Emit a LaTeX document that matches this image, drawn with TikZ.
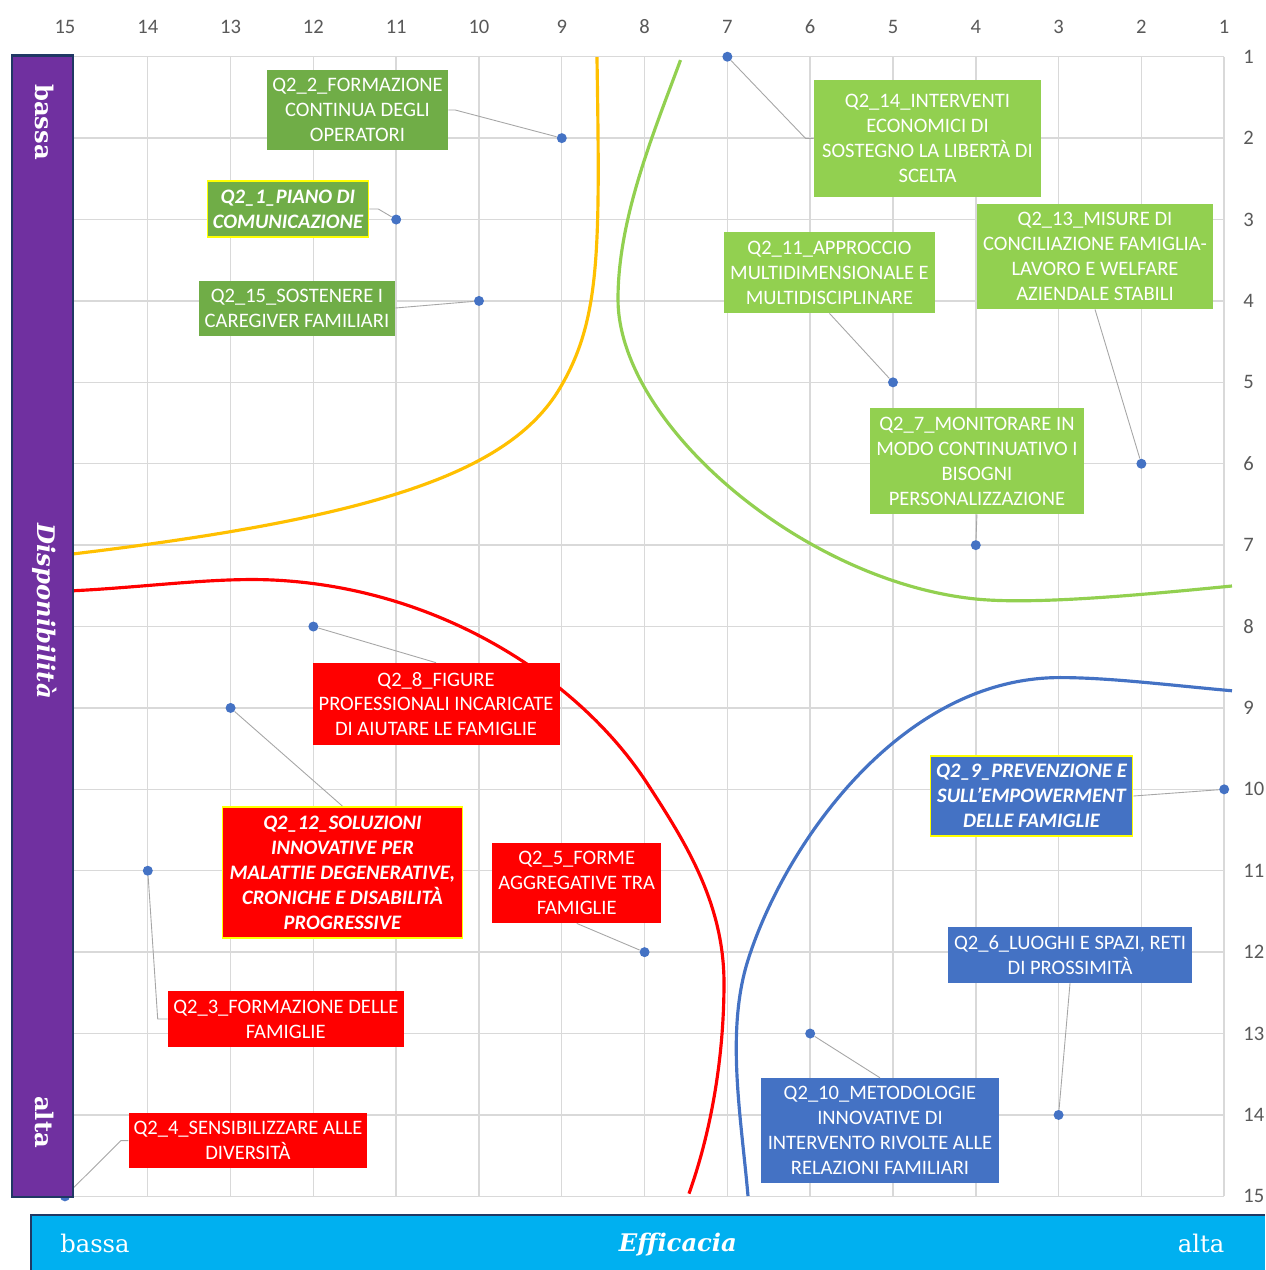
\documentclass[tikz,border=0pt]{standalone}
\usepackage{fontspec}
\usepackage{tikz}
\newfontfamily\tagfont{Carlito}
\newfontfamily\barfont{DejaVu Serif}
\definecolor{gridgray}{HTML}{D9D9D9}
\definecolor{tickgray}{HTML}{595959}
\definecolor{leadgray}{HTML}{A6A6A6}
\definecolor{dotblue}{HTML}{4472C4}
\definecolor{darkgreen}{HTML}{70AD47}
\definecolor{lightgreen}{HTML}{92D050}
\definecolor{tagred}{HTML}{FF0000}
\definecolor{tagblue}{HTML}{4472C4}
\definecolor{tagyellow}{HTML}{FFFF00}
\definecolor{barpurple}{HTML}{7030A0}
\definecolor{barnavy}{HTML}{203864}
\definecolor{barcyan}{HTML}{00B0F0}
\definecolor{curveorange}{HTML}{FFC000}
\pgfdeclarelayer{background}
\pgfdeclarelayer{foreground}
\pgfsetlayers{background,main,foreground}
\tikzset{
    gridline/.style={draw=gridgray, line width=0.8pt},
    tick/.style={text=tickgray, inner sep=0pt, font=\tagfont\fontsize{11.7}{14}\selectfont},
    dot/.style={circle, fill=dotblue, inner sep=0pt, minimum size=0.2cm},
    tag/.style={text=white, align=center, inner sep=0pt, font=\tagfont\fontsize{11.7}{14.2}\selectfont},
    tagem/.style={tag, draw=tagyellow, line width=1pt, font=\tagfont\fontsize{11.7}{14.2}\selectfont\bfseries\itshape},
    leader/.style={leadgray, line width=0.5pt},
    trend/.style={line width=1.8pt},
    bartext/.style={text=white, inner sep=0pt, font=\barfont\fontsize{13.8}{16}\selectfont},
    bartitle/.style={bartext, font=\barfont\fontsize{13.8}{16}\selectfont\bfseries\itshape},
}

\begin{document}
\begin{tikzpicture}[x={(-1.656cm,0cm)}, y={(0cm,-1.628cm)}]
    \useasboundingbox (15.785,0.303) rectangle (0.507,15.905);

    \begin{pgfonlayer}{background}
      \fill[white] (15.785,0.303) rectangle (0.507,15.905);
      \foreach \i in {1,...,15} {
        \draw[gridline] (\i,1) -- (\i,15);
        \draw[gridline] (15,\i) -- (1,\i);
      }
    \end{pgfonlayer}

    \foreach \i in {1,...,15} {
      \node[tick] (top\i) at (\i,0.635) {\i};
      \node[tick, anchor=west] (side\i) at (0.773,\i) {\i};
    }

    % trend curves
    \draw[trend, curveorange] (8.575,1.004) .. controls (8.539,3.375) and (8.529,4.225) .. (9.022,5.070)
      .. controls (9.638,6.127) and (11.301,6.674) .. (15,7.12);
    \draw[trend, lightgreen] (7.566,1.041) .. controls (7.902,1.962) and (8.321,2.994) .. (8.321,3.977)
      .. controls (8.321,5.512) and (6.089,7.447) .. (3.998,7.662)
      .. controls (3.277,7.736) and (1.928,7.604) .. (0.906,7.502);
    \draw[trend, tagred] (15,7.565) .. controls (14.094,7.527) and (13.200,7.392) .. (12.476,7.429)
      .. controls (10.423,7.533) and (8.762,8.687) .. (7.971,9.923)
      .. controls (7.510,10.644) and (7.041,11.397) .. (7.041,12.380)
      .. controls (7.041,13.240) and (7.180,14.157) .. (7.464,14.967);
    \draw[trend, dotblue] (0.906,8.789) .. controls (1.630,8.724) and (2.379,8.627) .. (2.983,8.627)
      .. controls (4.916,8.627) and (6.316,10.697) .. (6.751,12.097)
      .. controls (7.023,12.973) and (6.835,14.017) .. (6.751,14.996);

    \foreach \n/\xv/\yv in {1/11/3, 2/9/2, 3/14/11, 4/15/15, 5/8/12, 6/3/14, 7/4/7, 8/12/8, 9/1/10, 10/6/13, 11/5/5, 12/13/9, 13/2/6, 14/7/1, 15/10/4}
      \node[dot] (p\n) at (\xv,\yv) {};

    \node[tag, fill=darkgreen, minimum width=3.62cm, minimum height=1.60cm] (l2) at (11.467,1.655) {Q2\_2\_FORMAZIONE\\CONTINUA DEGLI\\OPERATORI};
    \node[tagem, fill=darkgreen, minimum width=3.22cm, minimum height=1.12cm] (l1) at (12.307,2.871) {Q2\_1\_PIANO DI\\COMUNICAZIONE};
    \node[tag, fill=darkgreen, minimum width=3.92cm, minimum height=1.10cm] (l15) at (12.198,4.087) {Q2\_15\_SOSTENERE I\\CAREGIVER FAMILIARI};
    \node[tag, fill=lightgreen, minimum width=4.54cm, minimum height=2.34cm] (l14) at (4.583,2.005) {Q2\_14\_INTERVENTI\\ECONOMICI DI\\SOSTEGNO LA LIBERTÀ DI\\SCELTA};
    \node[tag, fill=lightgreen, minimum width=4.72cm, minimum height=2.10cm] (l13) at (2.560,3.455) {Q2\_13\_MISURE DI\\CONCILIAZIONE FAMIGLIA-\\LAVORO E WELFARE\\AZIENDALE STABILI};
    \node[tag, fill=lightgreen, minimum width=4.22cm, minimum height=1.62cm] (l11) at (5.767,3.651) {Q2\_11\_APPROCCIO\\MULTIDIMENSIONALE E\\MULTIDISCIPLINARE};
    \node[tag, fill=lightgreen, minimum width=4.29cm, minimum height=2.12cm] (l7) at (3.986,5.967) {Q2\_7\_MONITORARE IN\\MODO CONTINUATIVO I\\BISOGNI\\PERSONALIZZAZIONE};
    \node[tag, fill=tagred, minimum width=4.94cm, minimum height=1.64cm] (l8) at (10.519,8.952) {Q2\_8\_FIGURE\\PROFESSIONALI INCARICATE\\DI AIUTARE LE FAMIGLIE};
    \node[tagem, fill=tagred, minimum width=4.80cm, minimum height=2.62cm] (l12) at (11.649,11.022) {Q2\_12\_SOLUZIONI\\INNOVATIVE PER\\MALATTIE DEGENERATIVE,\\CRONICHE E DISABILITÀ\\PROGRESSIVE};
    \node[tag, fill=tagred, minimum width=3.39cm, minimum height=1.60cm] (l5) at (8.820,11.151) {Q2\_5\_FORME\\AGGREGATIVE TRA\\FAMIGLIE};
    \node[tag, fill=tagred, minimum width=4.71cm, minimum height=1.11cm] (l3) at (12.333,12.822) {Q2\_3\_FORMAZIONE DELLE\\FAMIGLIE};
    \node[tag, fill=tagred, minimum width=4.77cm, minimum height=1.11cm] (l4) at (12.790,14.315) {Q2\_4\_SENSIBILIZZARE ALLE\\DIVERSITÀ};
    \node[tagem, fill=tagblue, minimum width=4.04cm, minimum height=1.61cm] (l9) at (3.327,10.082) {Q2\_9\_PREVENZIONE E\\SULL’EMPOWERMENT\\DELLE FAMIGLIE};
    \node[tag, fill=tagblue, minimum width=4.89cm, minimum height=1.11cm] (l6) at (2.862,12.036) {Q2\_6\_LUOGHI E SPAZI, RETI\\DI PROSSIMITÀ};
    \node[tag, fill=tagblue, minimum width=4.77cm, minimum height=2.10cm] (l10) at (5.157,14.193) {Q2\_10\_METODOLOGIE\\INNOVATIVE DI\\INTERVENTO RIVOLTE ALLE\\RELAZIONI FAMILIARI};

    \draw[leader] (l2.east) -- ++(0.14cm,0pt) -- (p2);
    \draw[leader] (l1.east) -- ++(0.18cm,0pt) -- (p1);
    \draw[leader] (l15.east) -- (p15);
    \draw[leader] (l14.west) -- ++(-0.16cm,0pt) -- (p14);
    \draw[leader] (l13.south) -- (p13);
    \draw[leader] (l11.south) -- (p11);
    \draw[leader] (l7.south) -- (p7);
    \draw[leader] (l8.north) -- (p8);
    \draw[leader] (l12.north) -- (p12);
    \draw[leader] (l5.south) -- (p5);
    \draw[leader] (l3.west) -- ++(-0.2cm,0pt) -- (p3);
    \draw[leader] (l4.west) -- ++(-0.15cm,0pt) -- (p4);
    \draw[leader] (l9.east) -- (p9);
    \draw[leader] (l6.south) -- (p6);
    \draw[leader] (l10.north) -- (p10);

    \begin{pgfonlayer}{foreground}
      % axis bars
      \draw[barnavy, fill=barpurple, line width=1.4pt] (15.64,0.985) rectangle (14.90,15.005);
      \node[bartext, rotate=-90, font=\barfont\fontsize{13.8}{16}\selectfont\bfseries] (ylow) at (15.25,1.802) {bassa};
      \node[bartitle, rotate=-90] (ytitle) at (15.25,7.810) {Disponibilità};
      \node[bartext, rotate=-90, font=\barfont\fontsize{13.8}{16}\selectfont\bfseries] (yhigh) at (15.25,14.087) {alta};
      \fill[barcyan] (15.411,15.23) rectangle (0.507,15.905);
      \draw[barnavy, line width=1.6pt] (15.411,15.905) |- (0.507,15.23);
      \node[bartext] (xlow) at (14.638,15.574) {bassa};
      \node[bartitle] (xtitle) at (7.597,15.59) {Efficacia};
      \node[bartext] (xhigh) at (1.280,15.574) {alta};
    \end{pgfonlayer}
  \end{tikzpicture}
\end{document}
